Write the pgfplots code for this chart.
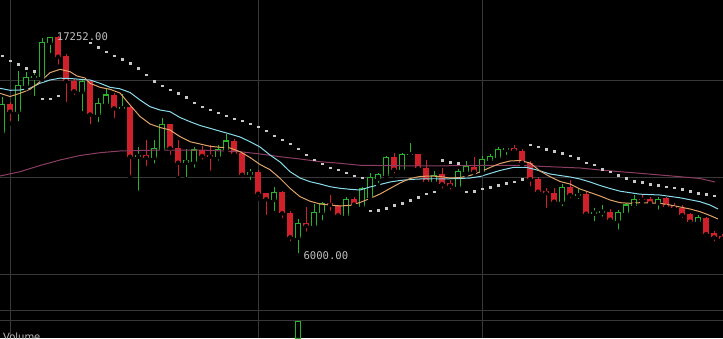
\documentclass[border=0pt]{standalone}
\usepackage{pgfplots}
\pgfplotsset{compat=1.18}
\usepackage{pgfplotstable}
\usepackage{fontspec}
\newfontfamily\monof{DejaVu Sans Mono}
\newfontfamily\sansf{DejaVu Sans}
\definecolor{cgreen}{HTML}{26B526}
\definecolor{cred}{HTML}{D0202A}
\definecolor{orangec}{HTML}{E0A468}
\definecolor{cyanc}{HTML}{8ADBEB}
\definecolor{purplec}{HTML}{8B3D63}
\definecolor{dotc}{HTML}{C8C8C8}
\definecolor{gridc}{HTML}{383838}
\definecolor{labc}{HTML}{C0C0C0}

\pgfplotstableread{
k o h l c
0 12342 14141 12162 13781
2 13396 15478 12789 14743
3 14743 15426 14588 15154
4 15144 15529 14090 15195
5 15185 17158 15015 16953
6 16953 17230 16300 17210
10 14434 15051 13303 14943
12 13252 14074 12743 13807
13 13792 14568 13663 14244
15 13540 14295 13370 13591
17 11093 11546 9222 11150
19 11042 11931 10620 11504
20 11468 13046 11381 12738
23 10775 11443 9916 10852
24 10816 11571 10404 11417
27 11073 11674 10764 11453
28 11453 12229 11381 11880
31 10183 10425 9772 10286
34 8883 9500 8179 9233
37 6930 7855 6000 7629
39 7536 8631 7475 8215
40 8215 8729 7691 8657
43 8076 9001 7989 8898
45 8539 9531 8503 9448
46 8965 10219 8934 9993
47 9962 10250 9618 10168
48 10132 11109 10029 11032
50 10404 11247 10338 11201
51 11170 11792 11083 11211
54 9788 10338 9603 10122
57 9531 10425 9361 10327
58 10302 10867 10132 10559
60 10302 11109 10219 10939
61 10903 11227 10785 11073
62 11042 11546 10990 11453
63 11453 11520 11057 11504
70 8760 9644 8420 9500
72 9078 9423 8796 9130
74 8169 8420 7649 8220
75 8220 8590 7886 8271
77 7783 8333 7218 8215
78 8194 8708 8076 8590
79 8590 9104 8333 8898
82 8708 8986 8246 8883
87 7768 8091 7716 7937
}\greentab

\pgfplotstableread{
k o h l c
1 13781 13884 12779 13386
7 17225 17252 15699 16213
8 16230 16336 13771 14948
9 14964 15092 14141 14434
11 14948 15015 12635 13242
14 14244 14331 12959 13560
16 13612 13653 10004 11073
18 11160 11916 10492 11021
21 12753 12779 11057 11504
22 11504 11931 9988 10764
25 11417 11648 10816 11109
26 11145 11674 10250 11073
29 11880 11982 11093 11211
30 11263 11330 9875 10147
32 10271 10389 8914 9171
33 9191 9222 7973 8883
35 9243 9310 7819 8163
36 8163 8271 6621 6930
38 7665 8462 7115 7511
41 8683 9104 8189 8590
42 8539 8590 7855 8061
44 8883 8986 8472 8616
49 11032 11247 10106 10404
52 11196 11211 10415 10476
53 10476 10903 9736 9788
55 10168 10476 9335 9654
56 9705 9875 9274 9582
59 10559 11083 10250 10302
64 11504 11689 11366 11381
65 11381 11453 10646 10764
66 10764 10867 9448 9911
67 9911 10014 9053 9274
68 9320 9474 8333 9197
69 9191 9448 8641 8760
71 9500 9875 8847 9104
73 9155 9274 7906 8143
76 8246 8369 7706 7834
80 8914 9089 8734 8873
81 8898 9017 8472 8677
83 8934 9017 8462 8503
84 8539 8677 8369 8420
85 8420 8590 7819 8076
86 8127 8194 7680 7732
88 7937 7989 6878 7089
89 7135 7238 6621 6920
90 6997 7099 6765 6868
}\redtab

\pgfplotstableread{
k p
0 16264
1 16007
2 15812
3 15632
4 15478
5 14054
6 14054
7 14208
11 16932
12 16686
13 16470
14 16264
15 16079
16 15873
17 15616
18 15287
19 14964
20 14722
21 14516
22 14331
23 14126
24 13848
25 13643
26 13488
27 13334
28 13180
29 13026
30 12923
31 12769
32 12615
33 12409
34 12152
35 11946
36 11741
37 11484
38 11175
39 10918
40 10713
41 10507
42 10404
43 10250
44 10096
45 9993
46 8297
47 8333
48 8436
49 8590
50 8693
51 8847
52 9001
53 9171
54 9274
55 10903
56 10800
57 10749
58 9274
59 9310
60 9428
61 9500
62 9603
63 9705
64 9788
65 9911
66 11689
67 11587
68 11468
69 11350
70 11247
71 11124
72 10980
73 10764
74 10661
75 10440
76 10302
77 10132
78 9978
79 9808
80 9757
81 9669
82 9618
83 9531
84 9479
85 9412
86 9310
87 9207
88 9155
89 9068
}\sartab

\pgfplotstableread{
k p
-0.26 14331
0.99 14167
2.24 14331
3.49 14537
4.74 14928
5.99 15391
7.24 15565
8.49 15442
9.36 15221
10.36 15118
10.99 14846
12.24 14640
13.49 14537
14.74 14347
15.99 13730
17.24 13139
18.49 12754
19.74 12574
20.99 12445
22.24 12101
23.49 11844
24.74 11726
25.99 11608
27.24 11556
28.49 11520
29.74 11330
30.99 11032
32.24 10672
33.49 10405
34.74 9963
35.99 9449
37.24 9017
38.49 8786
39.74 8642
40.99 8590
42.24 8539
43.49 8575
44.74 8719
45.99 8925
47.24 9156
48.49 9439
49.74 9721
50.99 9953
52.24 10055
53.49 10081
54.74 10055
55.99 9978
57.24 10004
58.49 10107
59.74 10287
60.99 10518
62.24 10724
63.49 10852
64.74 10878
65.99 10749
67.24 10338
68.49 10045
69.74 9798
70.99 9670
72.24 9413
73.49 9233
74.74 9053
75.99 8847
77.24 8709
78.49 8678
79.74 8709
80.99 8693
82.24 8678
83.49 8590
84.74 8488
85.99 8385
87.24 8246
88.49 8051
89.49 7871
}\orangetab

\pgfplotstableread{
k p
-0.26 14589
0.99 14486
2.24 14501
3.49 14589
4.74 14846
5.99 15015
7.24 15108
8.49 15092
9.74 15051
10.99 15015
12.24 14846
13.49 14640
14.74 14563
15.99 14373
17.24 13987
18.49 13643
19.74 13473
20.99 13386
22.24 13088
23.49 12872
24.74 12677
25.99 12533
27.24 12384
28.49 12240
29.74 12086
30.99 11844
32.24 11572
33.49 11160
34.74 10801
35.99 10302
37.24 9978
38.49 9788
39.74 9670
40.99 9531
42.24 9449
43.49 9397
44.74 9361
45.99 9516
47.24 9644
48.49 9773
49.74 9850
50.99 9901
52.24 9927
54.74 9927
57.24 9953
58.49 9978
59.74 10055
60.99 10210
62.24 10364
63.86 10518
65.61 10518
66.86 10389
68.49 10184
69.74 10107
70.99 10030
72.24 9927
73.49 9773
74.74 9593
75.99 9439
77.24 9300
79.74 9146
82.24 9104
84.74 8961
87.24 8760
88.49 8590
89.49 8385
}\cyantab

\pgfplotstableread{
k p
-0.26 10081
2.24 10302
4.74 10621
7.24 10903
9.74 11135
12.24 11279
14.74 11366
19.74 11417
24.74 11417
29.74 11330
32.24 11212
34.74 11073
37.24 10955
39.74 10816
42.24 10734
44.74 10631
52.24 10595
59.74 10621
64.74 10631
67.24 10580
72.24 10492
74.74 10389
77.24 10302
79.74 10220
82.24 10132
84.74 10045
87.24 9953
89.11 9773
}\purpletab

\pgfplotsset{candle/.style={only marks, mark=none, forget plot,
  error bars/.cd, y dir=plus, y explicit, error mark=none}}

\begin{document}
\begin{tikzpicture}
\path[use as bounding box] (0,0) rectangle (723pt,338pt);
\fill[black] (0,0) rectangle (723pt,338pt);
\clip (0,0) rectangle (723pt,338pt);
\begin{axis}[at={(0,0)}, anchor=south west, scale only axis,
  width=723pt, height=338pt,
  xmin=-0.2625, xmax=90.1125, ymin=1754, ymax=19127,
  axis line style={draw=none}, tick style={draw=none},
  xtick={1,32,60}, ytick={2628,3142,5000,10000,15000},
  xticklabels={}, yticklabels={},
  grid=major, major grid style={draw=gridc, line width=1pt},
  clip=true]
% wicks
\addplot[candle, error bar style={draw=cgreen, line width=1pt, solid}]
  table[x=k, y=l, y error expr=\thisrow{h}-\thisrow{l}] {\greentab};
\addplot[candle, error bar style={draw=cred, line width=1pt, solid}]
  table[x=k, y=l, y error expr=\thisrow{h}-\thisrow{l}] {\redtab};
% green bodies (hollow)
\addplot[candle, error bar style={draw=cgreen, line width=6pt, solid}]
  table[x=k, y expr=\thisrow{o}-26, y error expr=\thisrow{c}-\thisrow{o}+52] {\greentab};
\addplot[candle, error bar style={draw=black, line width=4pt, solid}]
  table[x=k, y expr=\thisrow{o}+26, y error expr={max(\thisrow{c}-\thisrow{o}-52,0)}] {\greentab};
% red bodies (filled)
\addplot[candle, error bar style={draw=cred, line width=6pt, solid}]
  table[x=k, y expr={min(\thisrow{c},\thisrow{o}-52)}, y error expr={max(\thisrow{o}-\thisrow{c},52)}] {\redtab};
% moving averages
\addplot[purplec, line width=1pt, mark=none] table[x=k, y=p] {\purpletab};
\addplot[cyanc, line width=1pt, mark=none] table[x=k, y=p] {\cyantab};
\addplot[orangec, line width=1pt, mark=none] table[x=k, y=p] {\orangetab};
% SAR dots
\addplot[only marks, mark=square*, mark size=0.9pt, draw=dotc, fill=dotc] table[x=k, y=p] {\sartab};
\node[anchor=west, inner sep=0pt, text=labc, font={\monof\fontsize{10.6pt}{12pt}\selectfont}] at (axis cs:6.83,17252) {17252.00};
\node[anchor=west, inner sep=0pt, text=labc, font={\monof\fontsize{10.6pt}{12pt}\selectfont}] at (axis cs:37.65,6000) {6000.00};
\end{axis}
\begin{axis}[at={(0,0)}, anchor=south west, scale only axis,
  width=723pt, height=17pt,
  xmin=-0.2625, xmax=90.1125, ymin=80, ymax=100,
  hide axis, clip=true]
\addplot[ybar, bar width=4.5pt, draw=cgreen, fill=black, line width=1pt] coordinates {(37,100)};
\end{axis}
\node[anchor=north west, inner sep=0pt, text=labc, font={\sansf\fontsize{10pt}{12pt}\selectfont}] at (3pt,5.5pt) {Volume};
\end{tikzpicture}
\end{document}
